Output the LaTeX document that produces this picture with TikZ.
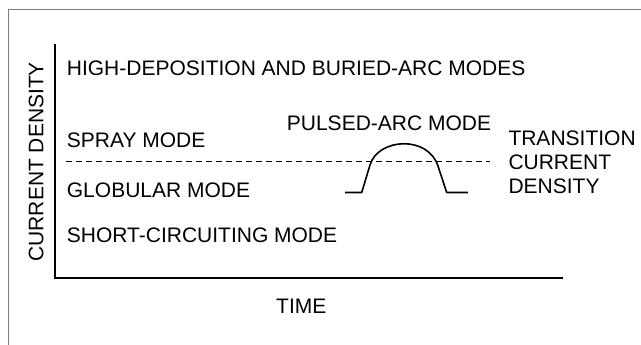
\documentclass[tikz,border=0pt]{standalone}
\usepackage{fontspec}
\setmainfont{Liberation Sans}
\begin{document}
\begin{tikzpicture}[x=1pt,y=-1pt,
  lbl/.style={anchor=base west,inner sep=0pt,font=\fontsize{21}{25}\selectfont},
  axis/.style={line width=1.4pt,black},
  pulse/.style={line width=1.6pt,black,line join=round},
  trans/.style={line width=1pt,black,dash pattern=on 6pt off 4pt}]
\useasboundingbox (0,0) rectangle (641,345);
\fill[white] (0,0) rectangle (641,345);
% frame
\draw[gray,line width=1.3pt] (8.3,345) -- (8.3,9.3) -- (641,9.3);
% axes
\coordinate (top) at (55,44.5);
\coordinate (origin) at (55,278);
\coordinate (xend) at (563,278);
\draw[axis] (top) -- (origin) -- (xend);
% labels
\node[lbl,rotate=90] (ylab) at (43.3,261.7) {CURRENT DENSITY};
\node[lbl] (high) at (66.7,76) {HIGH-DEPOSITION AND BURIED-ARC MODES};
\node[lbl] (spray) at (66.7,147.3) {SPRAY MODE};
\node[lbl] (pulsed) at (286.7,130.7) {PULSED-ARC MODE};
\node[lbl] (glob) at (66.7,197.3) {GLOBULAR MODE};
\node[lbl] (short) at (66.7,242) {SHORT-CIRCUITING MODE};
\node[lbl] (tr1) at (508.3,146) {TRANSITION};
\node[lbl] (tr2) at (508.3,169.5) {CURRENT};
\node[lbl] (tr3) at (508.3,193.3) {DENSITY};
\node[lbl] (time) at (276,313) {TIME};
% transition line
\coordinate (d1) at (66,161.7);
\coordinate (d2) at (490,161.7);
\draw[trans] (d1) -- (d2);
% pulse
\coordinate (p0) at (345,192.5);
\coordinate (p1) at (361.7,192.5);
\coordinate (p2) at (370,165);
\coordinate (p4) at (438,166);
\coordinate (p5) at (446.7,192.5);
\coordinate (p6) at (468,192.5);
\draw[pulse] (p0) -- (p1) -- (p2) .. controls (378,138) and (428,135) .. (p4)
  -- (p5) -- (p6);
\end{tikzpicture}
\end{document}
